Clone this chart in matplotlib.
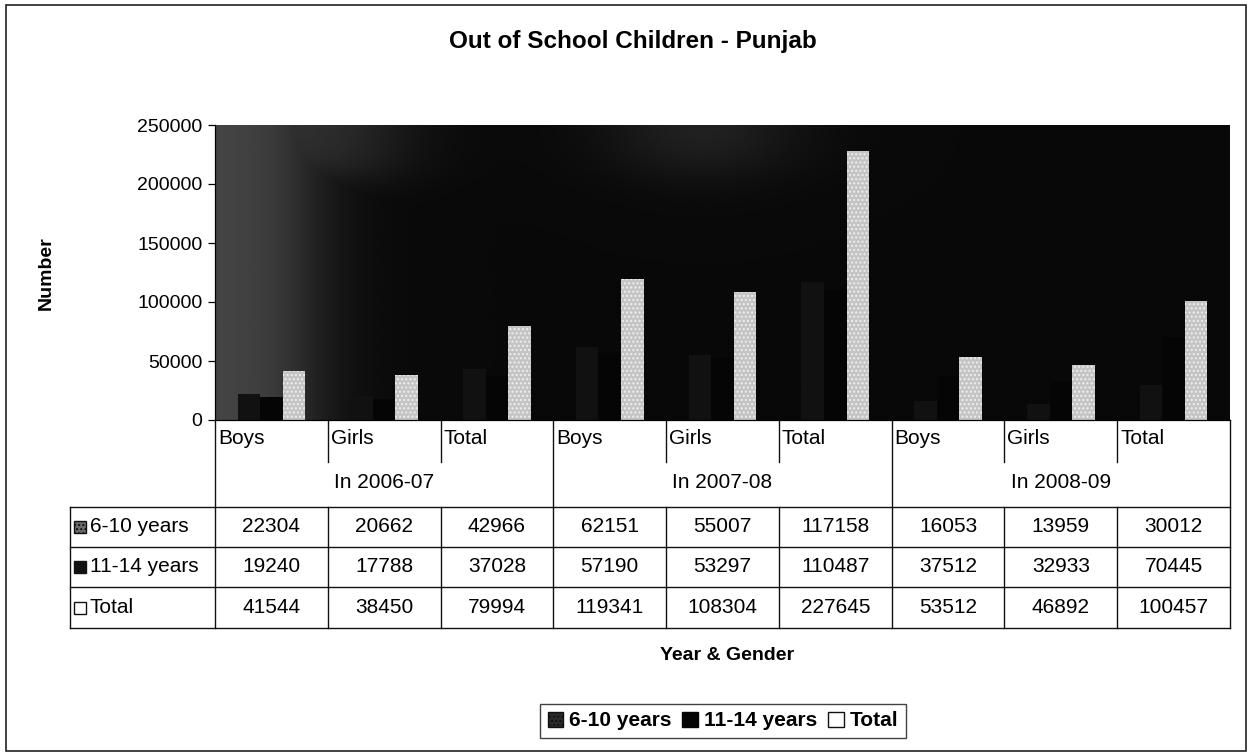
import numpy as np
import matplotlib
matplotlib.use("Agg")
import matplotlib.pyplot as plt
from matplotlib.patches import Patch, Rectangle
from matplotlib.lines import Line2D

plt.rcParams['font.family'] = ['Liberation Sans', 'DejaVu Sans']

# ---------------- data ----------------
years = ["In 2006-07", "In 2007-08", "In 2008-09"]
genders = ["Boys", "Girls", "Total"]
series_names = ["6-10 years", "11-14 years", "Total"]
age_6_10 = [22304, 20662, 42966, 62151, 55007, 117158, 16053, 13959, 30012]
age_11_14 = [19240, 17788, 37028, 57190, 53297, 110487, 37512, 32933, 70445]
total = [41544, 38450, 79994, 119341, 108304, 227645, 53512, 46892, 100457]
yticks = [0, 50000, 100000, 150000, 200000, 250000]

W, H = 1249, 756
fig = plt.figure(figsize=(W / 100, H / 100), dpi=100)
fig.patch.set_facecolor("white")

def fx(x):
    return x / W

def fy(y):
    return 1 - y / H

# outer border
fig.add_artist(Rectangle((fx(6), fy(751)), fx(1246) - fx(6), fy(5) - fy(751),
                         transform=fig.transFigure, fill=False, lw=1.2, ec="#222222"))

L, R, T, B = 215, 1230, 125, 420
ax = fig.add_axes([fx(L), fy(B), fx(R) - fx(L), fy(T) - fy(B)])
n = len(total)
x = np.arange(n)
ax.set_xlim(-0.5, n - 0.5)
ax.set_ylim(0, 250000)

# dark, scanned-looking background (grey strip at left, faint glow at top)
gx, gy = np.meshgrid(np.linspace(0, 1, 400), np.linspace(1, 0, 200))
sig = lambda z: 1 / (1 + np.exp(-z))
left_strip = 0.24 * sig((0.09 - gx) / 0.025)
top_band = 0.16 * sig((0.17 - gx) / 0.03) * sig((gy - 0.82) / 0.04)
top_glow = 0.10 * np.exp(-((gx - 0.48) / 0.10) ** 2) * sig((gy - 0.85) / 0.05)
grad = 0.035 + np.maximum(left_strip, top_band) + top_glow
ax.imshow(grad, extent=(-0.5, n - 0.5, 0, 250000), aspect="auto", cmap="gray",
          vmin=0, vmax=1, zorder=0, interpolation="bilinear")

bw = 0.2
ax.bar(x - bw, age_6_10, bw, color="#111111", zorder=2)
ax.bar(x, age_11_14, bw, color="#050505", zorder=2)
ax.bar(x + bw, total, bw, color="#c4c4c4", edgecolor="#eeeeee", hatch="....",
       linewidth=0, zorder=2)

ax.set_yticks(yticks)
ax.set_yticklabels([str(v) for v in yticks], fontsize=14)
ax.set_xticks([])
ax.tick_params(axis="y", length=5, width=0.9, pad=4)
for s in ["top", "right"]:
    ax.spines[s].set_visible(False)
ax.spines["left"].set_linewidth(0.9)
ax.spines["bottom"].set_linewidth(0.9)

# ---------------- titles ----------------
fig.text(fx(633), fy(48), "Out of School Children - Punjab", ha="center", va="baseline",
         fontsize=17.5, fontweight="bold")
fig.text(fx(46), fy(273), "Number", ha="center", va="center", rotation=90,
         fontsize=14, fontweight="bold")
fig.text(fx(727), fy(656), "Year & Gender", ha="center", va="center",
         fontsize=14, fontweight="bold")

# ---------------- category axis / data table ----------------
colw = (R - L) / n
bounds = [L + i * colw for i in range(n + 1)]

def vline(xp, y0, y1, lw=1.0):
    fig.add_artist(Line2D([fx(xp), fx(xp)], [fy(y0), fy(y1)], transform=fig.transFigure,
                          color="#111111", lw=lw))

def hline(x0, x1, yp, lw=1.0):
    fig.add_artist(Line2D([fx(x0), fx(x1)], [fy(yp), fy(yp)], transform=fig.transFigure,
                          color="#111111", lw=lw))

row_cat_top, row_cat_bot = 420, 462
data_rows = [507, 547, 587, 628]
tab_left = 70

# gender labels
for i in range(n):
    fig.text(fx(bounds[i] + 3), fy(439), genders[i % 3], ha="left", va="center", fontsize=15)
# short separators between genders, long separators between years
for i in range(n + 1):
    if i % 3 == 0:
        vline(bounds[i], row_cat_top, data_rows[-1])
    else:
        vline(bounds[i], row_cat_top, row_cat_bot)
        vline(bounds[i], data_rows[0], data_rows[-1])
# year labels
for j, yl in enumerate(years):
    cx = (bounds[3 * j] + bounds[3 * j + 3]) / 2
    fig.text(fx(cx), fy(482), yl, ha="center", va="center", fontsize=15)

# data table grid
for yp in data_rows:
    hline(tab_left, R, yp)
vline(tab_left, data_rows[0], data_rows[-1])

markers = [dict(fc="#6a6a6a", ec="#111111", hatch="...."),
           dict(fc="#111111", ec="#111111", hatch=None),
           dict(fc="white", ec="#111111", hatch=None)]
for r, (name, vals) in enumerate(zip(series_names, [age_6_10, age_11_14, total])):
    cy = (data_rows[r] + data_rows[r + 1]) / 2
    m = markers[r]
    fig.add_artist(Rectangle((fx(tab_left + 4), fy(cy + 6)), fx(12), 12 / H,
                             transform=fig.transFigure, facecolor=m["fc"], edgecolor=m["ec"],
                             hatch=m["hatch"], lw=1.0))
    fig.text(fx(tab_left + 20), fy(cy), name, ha="left", va="center", fontsize=15)
    for i, v in enumerate(vals):
        cx = (bounds[i] + bounds[i + 1]) / 2
        fig.text(fx(cx), fy(cy), str(v), ha="center", va="center", fontsize=15)

# ---------------- legend ----------------
handles = [Patch(facecolor="#2a2a2a", edgecolor="#111111", hatch="...."),
           Patch(facecolor="#050505", edgecolor="#050505"),
           Patch(facecolor="white", edgecolor="#111111")]
leg = fig.legend(handles, series_names, loc="center", bbox_to_anchor=(fx(723), fy(721)),
                 ncol=3, frameon=True, fancybox=False, handlelength=0.75, handleheight=0.75,
                 handletextpad=0.3, columnspacing=0.5, borderpad=0.35, borderaxespad=0,
                 prop={"size": 15, "weight": "bold"})
leg.get_frame().set_edgecolor("#111111")
leg.get_frame().set_linewidth(1.0)

fig.savefig("out.png", dpi=100, facecolor="white")
